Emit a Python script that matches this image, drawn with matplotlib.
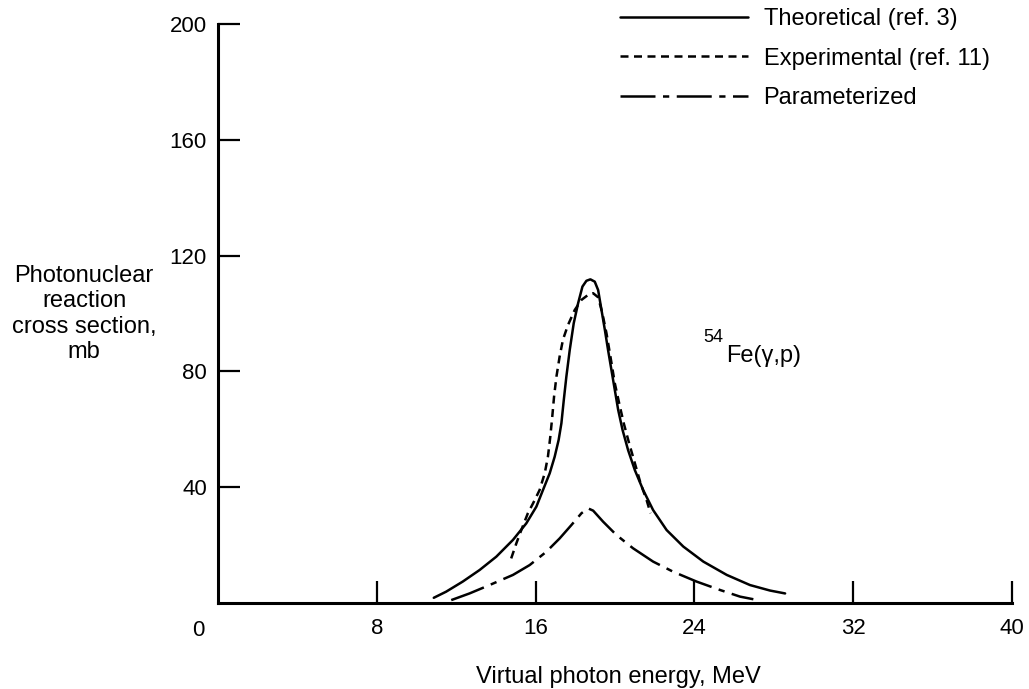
import matplotlib
matplotlib.use("Agg")
import matplotlib.pyplot as plt

plt.rcParams['font.family'] = ['Liberation Sans', 'DejaVu Sans']

# --- data ---
theo_x = [10.87, 11.49, 12.33, 13.18, 14.02, 14.86, 15.53, 16.04, 16.37, 16.71, 16.96,
          17.16, 17.30, 17.42, 17.55, 17.72, 17.92, 18.14, 18.36, 18.56, 18.76, 18.98,
          19.15, 19.32, 19.49, 19.65, 19.82, 19.99, 20.16, 20.38, 20.66, 21.00, 21.42,
          21.92, 22.60, 23.44, 24.45, 25.63, 26.80, 27.81, 28.57]
theo_y = [1.8, 3.9, 7.4, 11.4, 16.0, 21.8, 27.5, 33.3, 39.0, 44.8, 50.5,
          56.3, 62.1, 70.1, 78.2, 87.4, 96.6, 103.5, 109.3, 111.3, 111.8, 111.0,
          108.1, 101.2, 94.3, 87.4, 80.5, 73.6, 66.7, 59.8, 52.8, 45.9, 39.0,
          32.1, 25.2, 19.5, 14.3, 9.7, 6.2, 4.3, 3.3]

exp_x = [14.77, 15.03, 15.28, 15.61, 15.87, 16.20, 16.46, 16.62, 16.74, 16.84, 16.93,
         17.05, 17.21, 17.38, 17.63, 17.97, 18.31, 18.64, 18.90, 19.15, 19.35, 19.57,
         19.77, 19.99, 20.21, 20.44, 20.71, 21.00, 21.29, 21.59, 21.79]
exp_y = [15.4, 20.6, 25.2, 31.0, 34.4, 39.0, 44.8, 50.5, 57.4, 64.4, 71.3,
         78.2, 85.1, 91.0, 96.0, 101.2, 104.7, 106.4, 107.0, 105.6, 100.5, 93.2,
         85.1, 75.9, 69.0, 62.1, 55.2, 48.3, 41.3, 35.6, 31.0]

par_x = [11.75, 12.67, 13.68, 14.86, 15.70, 16.54, 17.21, 17.80, 18.31, 18.64, 18.90,
         19.40, 20.07, 20.91, 21.92, 22.93, 24.11, 25.29, 26.30, 26.97]
par_y = [1.0, 3.3, 6.2, 9.7, 13.1, 17.7, 22.3, 26.9, 31.0, 32.7, 31.9,
         28.1, 23.5, 18.9, 14.3, 10.8, 7.4, 4.5, 2.2, 1.3]

x_ticks = [8, 16, 24, 32, 40]
y_ticks = [40, 80, 120, 160, 200]

labels = ["Theoretical (ref. 3)", "Experimental (ref. 11)", "Parameterized"]
annot_sup = "54"
annot_main = "Fe(\u03b3,p)"
xlabel = "Virtual photon energy, MeV"
ylabel = "Photonuclear\nreaction\ncross section,\nmb"

# --- figure ---
W, H = 1029, 689
fig = plt.figure(figsize=(W / 100, H / 100), dpi=100)
ax = fig.add_axes([218 / W, 1 - 603 / H, (1012 - 218) / W, (603 - 24) / H])

lw = 1.8
ax.plot(theo_x, theo_y, color='black', lw=lw, solid_capstyle='round',
        solid_joinstyle='round', label=labels[0])
ax.plot(exp_x, exp_y, color='black', lw=lw, linestyle=(0, (3.2, 2.2)), label=labels[1])
ax.plot(par_x, par_y, color='black', lw=lw, linestyle=(0, (14, 3, 2.5, 3)),
        label=labels[2])

ax.set_xlim(0, 40)
ax.set_ylim(0, 200)

for s in ['top', 'right']:
    ax.spines[s].set_visible(False)
for s in ['left', 'bottom']:
    ax.spines[s].set_linewidth(2.2)

ax.set_xticks(x_ticks)
ax.set_yticks(y_ticks)
ax.tick_params(axis='both', direction='in', length=16, width=1.6, labelsize=16)
ax.tick_params(axis='x', pad=11)
ax.tick_params(axis='y', pad=8)

ax.annotate("0", xy=(0, 0), xycoords='data', xytext=(-14, -19.5), textcoords='offset points',
            ha='center', va='center', fontsize=16)

fig.text(618 / W, 1 - 677 / H, xlabel, ha='center', va='center', fontsize=17)
fig.text(84 / W, 1 - 314 / H, ylabel, ha='center', va='center', fontsize=17,
         linespacing=1.2, multialignment='center')

ax.text(24.45, 91.8, annot_sup, ha='left', va='center', fontsize=13)
ax.text(25.6, 85.3, annot_main, ha='left', va='center', fontsize=17)

fig.legend(loc='upper left', bbox_to_anchor=(620 / W, 1 - 8 / H), frameon=False,
           fontsize=17, handlelength=5.4, handletextpad=0.68, labelspacing=0.75,
           borderpad=0, borderaxespad=0)

fig.savefig("out.png", dpi=100)
